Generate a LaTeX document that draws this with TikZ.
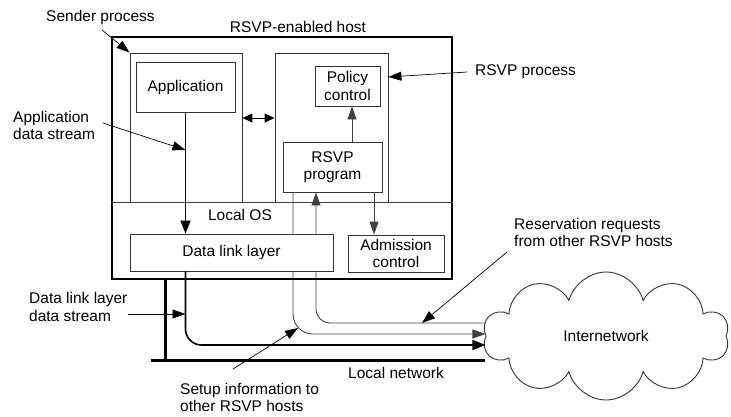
\documentclass[tikz,border=0pt]{standalone}
\usepackage{fontspec}
\setmainfont{Liberation Sans}
\usepackage{tikz}
\usetikzlibrary{arrows.meta,shapes.symbols,backgrounds}

\begin{document}
\begin{tikzpicture}[x=1pt,y=-1pt,
    font=\fontsize{15.5}{17.5}\selectfont,
    box/.style={draw=black!80,line width=0.9pt,inner sep=0pt,align=center},
    flow/.style={draw=black!75,line width=0.9pt,-{Triangle[length=13pt,width=9pt]}},
    stream/.style={line width=1.6pt,-{Triangle[length=13pt,width=10pt]}},
    callout/.style={line width=0.7pt,-{Triangle[length=13pt,width=9pt]}},
    lbl/.style={align=left,anchor=west,inner sep=0pt}]
  \useasboundingbox (0,0) rectangle (731,416);
  \node[box,draw=black,line width=1.6pt,minimum width=340,minimum height=242] (host) at (282,158) {};
  \node[box,minimum width=112,minimum height=149] (sender) at (186,127.5) {};
  \node[box,minimum width=113,minimum height=149] (rsvpproc) at (331.5,127.5) {};
  \node[box,minimum width=99,minimum height=50] (app) at (185.5,87) {Application};
  \node[box,minimum width=65,minimum height=40] (policy) at (347.5,86) {Policy\\control};
  \node[box,minimum width=99,minimum height=50] (prog) at (332.5,167) {RSVP\\program};
  \node[box,fill=white,minimum width=203,minimum height=37] (dll) at (231.5,252.5) {Data link layer};
  \node[box,minimum width=96,minimum height=37] (adm) at (396,253.5) {Admission\\control};
  \node[box,cloud,cloud puffs=10,cloud ignores aspect,minimum width=246,minimum height=128] (cloud) at (606,336) {Internetwork};
  \draw[draw=black!75,line width=0.9pt] (host.west |- 0,202) -- (host.east |- 0,202);
  \node (oslbl) at (240,215) {Local OS};

  \draw[stream] (app.south) -- (app.south |- dll.north);
  \draw[{Triangle[length=10pt,width=9pt]}-{Triangle[length=10pt,width=9pt]},line width=1pt] (sender.east |- 0,118) -- (rsvpproc.west |- 0,118);
  \draw[flow] ([xshift=19.5]prog.north) -- ([xshift=19.5]prog.north |- policy.south);
  \draw[flow] ([xshift=41.5]prog.south) -- ([xshift=41.5]prog.south |- adm.north);
  \begin{scope}[on background layer]
    \draw[flow,rounded corners=20pt] ([xshift=-39.5]prog.south) |- (cloud.west |- 0,334);
    \draw[flow,rounded corners=14pt] (cloud.west |- 0,323) -| ([xshift=-16.5]prog.south);
  \end{scope}
  \draw[stream,rounded corners=16pt] (app.south |- dll.south) |- (cloud.west |- 0,345);
  \draw[line width=3pt] (host.south -| 165,0) -- (165,360);
  \draw[line width=3pt] (151,360) -- (cloud.west |- 0,360);
  \node (lanlbl) at (396,373) {Local network};

  \node (hostlbl) at (298,27) {RSVP-enabled host};
  \node[lbl] (sendlbl) at (46,17) {Sender process};
  \draw[callout] (102,30) -- (sender.north west);
  \node[lbl] (proclbl) at (475,72) {RSVP process};
  \draw[callout] ([xshift=-8]proclbl.west) -- (rsvpproc.east |- 0,77);
  \node[lbl] (applbl) at (13,125.5) {Application\\data stream};
  \draw[callout] (103,123) -- (app.south |- 0,150);
  \node[lbl] (dlslbl) at (29,307) {Data link layer\\data stream};
  \draw[callout] (128,314) -- (app.south |- 0,314);
  \node[lbl] (setuplbl) at (180,397.5) {Setup information to\\other RSVP hosts};
  \draw[callout] (233,369) -- (298,328);
  \node[lbl] (reslbl) at (514,232.5) {Reservation requests\\from other RSVP hosts};
  \draw[callout] (507,252) -- (422,323);
\end{tikzpicture}
\end{document}
